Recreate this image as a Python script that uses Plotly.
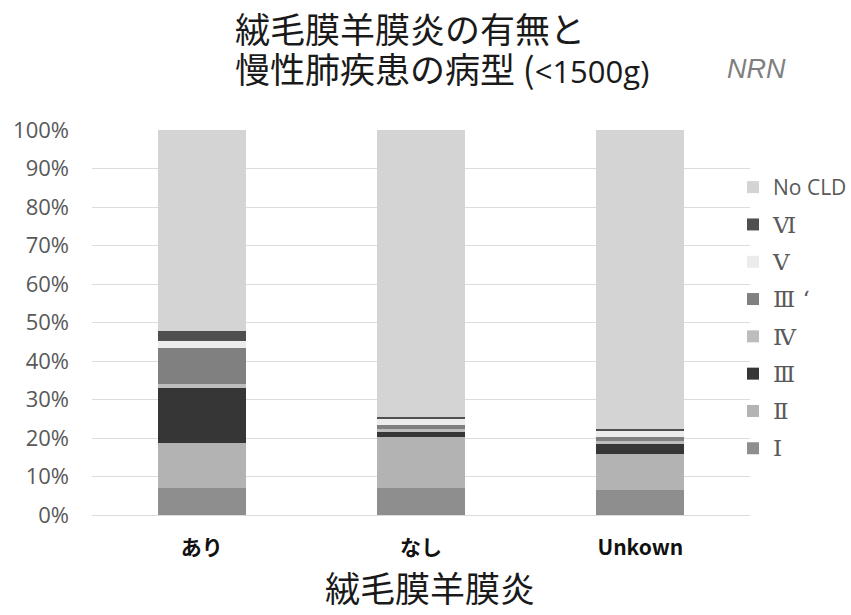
import plotly.graph_objects as go

# Chorioamnionitis status vs. chronic lung disease type (<1500g), NRN
categories = ["あり", "なし", "Unkown"]

type_I = [7.1, 7.1, 6.5]
type_II = [11.5, 13.2, 9.3]
type_III = [14.3, 1.5, 2.6]
type_IV = [1.2, 0.5, 0.7]
type_III_prime = [9.3, 1.0, 1.1]
type_V = [1.8, 1.6, 1.5]
type_VI = [2.6, 0.6, 0.7]
no_cld = [52.2, 74.5, 77.6]

y_ticks = [0, 10, 20, 30, 40, 50, 60, 70, 80, 90, 100]
y_tick_labels = ["%d%%" % v for v in y_ticks]

SERIF = "font-family:'DejaVu Serif','Liberation Serif',serif;font-size:23px"
series = [
    ("<span style=\"%s\">Ⅰ</span>" % SERIF, type_I, "#8e8e8e"),
    ("<span style=\"%s\">Ⅱ</span>" % SERIF, type_II, "#b3b3b3"),
    ("<span style=\"%s\">Ⅲ</span>" % SERIF, type_III, "#363636"),
    ("<span style=\"%s\">Ⅳ</span>" % SERIF, type_IV, "#bdbdbd"),
    ("<span style=\"%s\">Ⅲ ‘</span>" % SERIF, type_III_prime, "#808080"),
    ("<span style=\"%s\">Ⅴ</span>" % SERIF, type_V, "#ececec"),
    ("<span style=\"%s\">Ⅵ</span>" % SERIF, type_VI, "#4f4f4f"),
    ("No CLD", no_cld, "#d4d4d4"),
]

fig = go.Figure()
n = len(series)
for i, (name, vals, color) in enumerate(series):
    fig.add_trace(go.Bar(
        x=categories, y=vals, name=name,
        marker=dict(color=color, line=dict(width=0)),
        legendgroup="g%d" % i,
        legendrank=n - i,
        hoverinfo="skip",
    ))

W, H = 851, 615
ML, MR, MT, MB = 92, 101, 130, 100
PW = W - ML - MR
PH = H - MT - MB

def px_x(x):
    return (x - ML) / PW

def px_y(y):
    return (H - MB - y) / PH

CJK = "Noto Sans CJK JP"
TITLE_FONT = dict(family=CJK, size=35, color="#1a1a1a")

fig.update_layout(
    width=W, height=H,
    margin=dict(l=ML, r=MR, t=MT, b=MB, pad=0, autoexpand=False),
    paper_bgcolor="white", plot_bgcolor="white",
    barmode="stack", bargap=0.6,
    showlegend=True,
    legend=dict(
        x=px_x(733), y=px_y(167), xanchor="left", yanchor="top",
        traceorder="grouped", tracegroupgap=7,
        font=dict(family="Open Sans, " + CJK, size=21, color="#595959"),
        itemwidth=30, bgcolor="rgba(0,0,0,0)",
    ),
    xaxis=dict(
        showgrid=False, showline=False, zeroline=False,
        tickfont=dict(family=CJK, size=21, color="#111111", weight="bold"),
        ticklabelstandoff=18,
    ),
    yaxis=dict(
        range=[0, 100], tickmode="array", tickvals=y_ticks, ticktext=y_tick_labels,
        showgrid=True, gridcolor="#dcdcdc", gridwidth=1,
        zeroline=True, zerolinecolor="#dcdcdc", zerolinewidth=1,
        showline=False,
        tickfont=dict(family="Open Sans", size=22, color="#595959"),
        ticklabelstandoff=22,
    ),
    annotations=[
        # two-line chart title
        dict(text="絨毛膜羊膜炎の有無と",
             xref="paper", yref="paper", align="left",
             x=px_x(233), y=px_y(0), xanchor="left", yanchor="top",
             showarrow=False, font=TITLE_FONT),
        dict(text=("慢性肺疾患の病型 ("
                   "<span style=\"font-family:'Open Sans';font-size:31px\">&lt;1500g)</span>"),
             xref="paper", yref="paper", align="left",
             x=px_x(233), y=px_y(67), xanchor="left", yanchor="middle",
             showarrow=False, font=TITLE_FONT),
        dict(text="<i>NRN</i>", xref="paper", yref="paper",
             x=px_x(725), y=px_y(69), xanchor="left", yanchor="middle",
             showarrow=False, font=dict(family="Liberation Sans", size=27, color="#7f7f7f")),
        # x-axis title
        dict(text="絨毛膜羊膜炎", xref="paper", yref="paper",
             x=px_x(430), y=px_y(614), xanchor="center", yanchor="bottom",
             showarrow=False, font=dict(family=CJK, size=35, color="#1a1a1a")),
    ],
)

fig.write_html("out.html")
